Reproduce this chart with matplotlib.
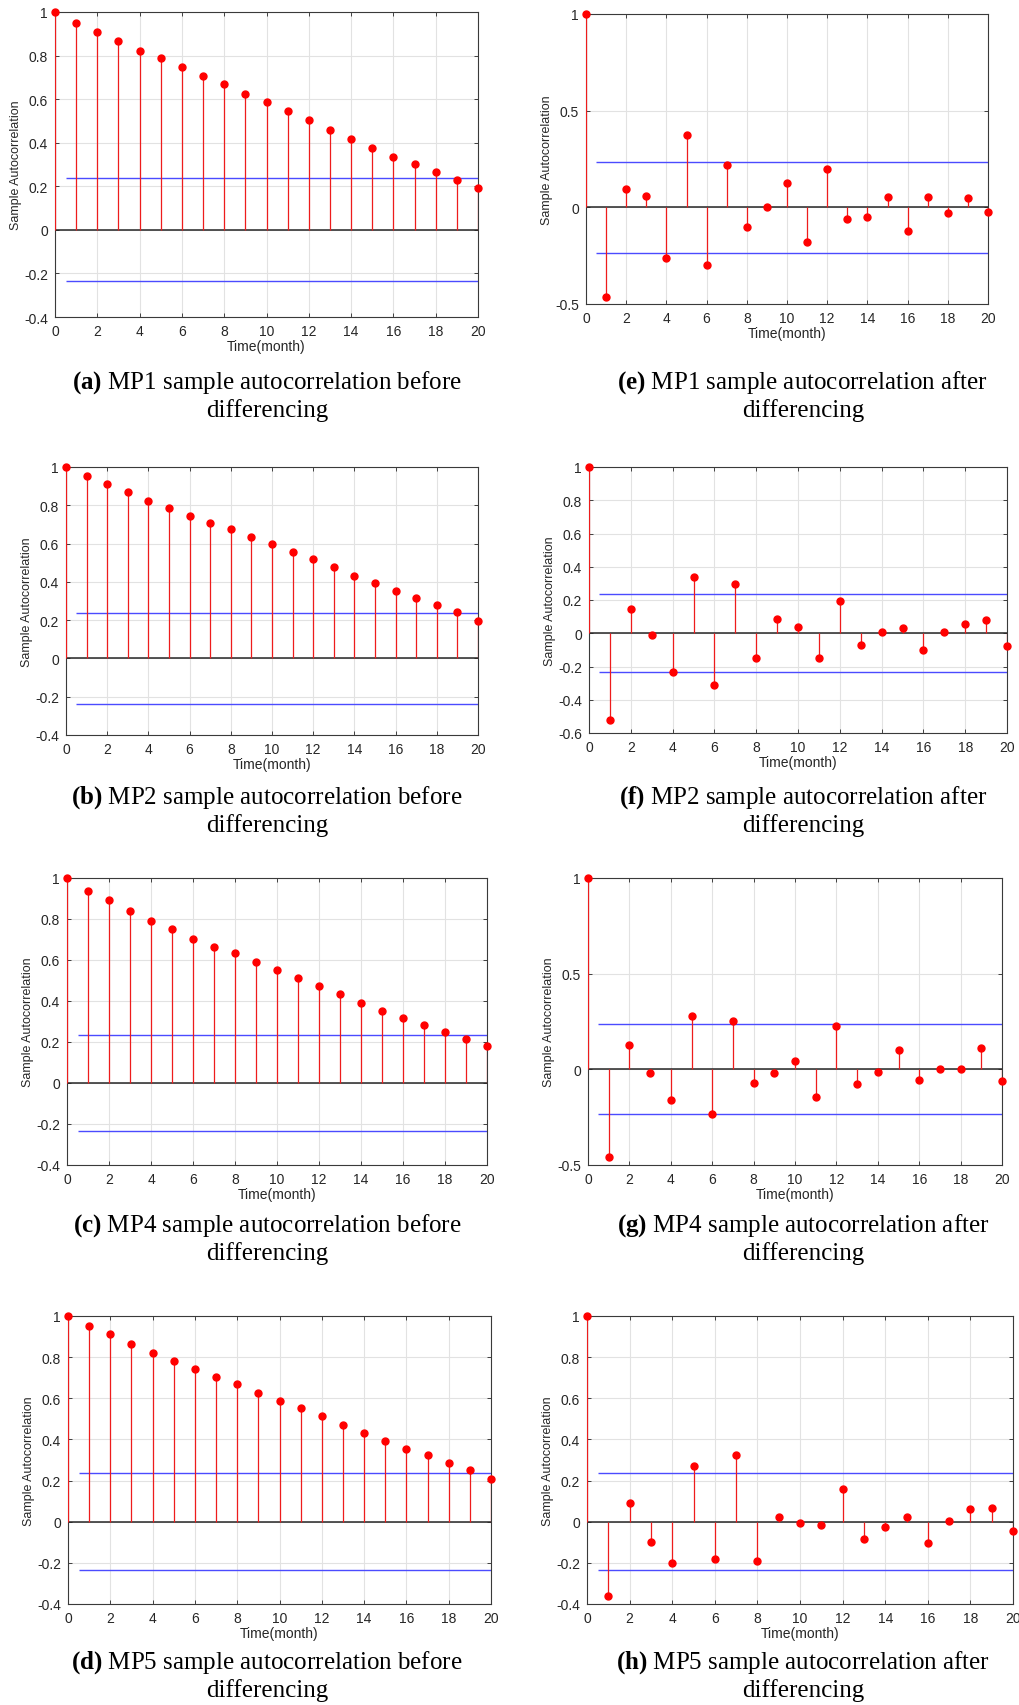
import numpy as np
import matplotlib
matplotlib.use("Agg")
import matplotlib.pyplot as plt
from matplotlib.ticker import FormatStrFormatter

plt.rcParams['font.family'] = ['Liberation Sans', 'DejaVu Sans']
plt.rcParams['axes.unicode_minus'] = False
plt.rcParams['mathtext.fontset'] = 'custom'
plt.rcParams['mathtext.rm'] = 'Liberation Serif'
plt.rcParams['mathtext.bf'] = 'Liberation Serif:bold'

# ---- data ----
lags = np.arange(21)
bound = 0.236   # confidence bounds drawn as +/- lines

mp1_before = [1, 0.950, 0.910, 0.865, 0.822, 0.790, 0.747, 0.708, 0.669, 0.625, 0.585,
              0.544, 0.504, 0.460, 0.416, 0.374, 0.336, 0.302, 0.264, 0.230, 0.192]
mp2_before = [1, 0.953, 0.913, 0.867, 0.824, 0.787, 0.744, 0.709, 0.676, 0.636, 0.596,
              0.555, 0.519, 0.475, 0.433, 0.392, 0.350, 0.317, 0.277, 0.242, 0.198]
mp4_before = [1, 0.938, 0.894, 0.839, 0.790, 0.750, 0.704, 0.665, 0.633, 0.589, 0.550,
              0.512, 0.475, 0.433, 0.390, 0.353, 0.315, 0.283, 0.247, 0.215, 0.179]
mp5_before = [1, 0.952, 0.911, 0.863, 0.820, 0.783, 0.741, 0.705, 0.670, 0.628, 0.589,
              0.554, 0.515, 0.472, 0.430, 0.391, 0.353, 0.322, 0.283, 0.250, 0.209]

mp1_after = [1, -0.462, 0.093, 0.057, -0.264, 0.372, -0.298, 0.219, -0.102, 0.0, 0.124,
             -0.178, 0.197, -0.060, -0.050, 0.055, -0.124, 0.052, -0.029, 0.048, -0.026]
mp2_after = [1, -0.522, 0.147, -0.009, -0.231, 0.337, -0.312, 0.295, -0.151, 0.087, 0.039,
             -0.147, 0.195, -0.069, 0.009, 0.029, -0.101, 0.009, 0.057, 0.081, -0.075]
mp4_after = [1, -0.456, 0.127, -0.017, -0.160, 0.279, -0.232, 0.254, -0.073, -0.017, 0.044,
             -0.143, 0.225, -0.075, -0.014, 0.101, -0.056, 0.003, 0.0, 0.110, -0.059]
mp5_after = [1, -0.363, 0.090, -0.100, -0.200, 0.273, -0.182, 0.323, -0.190, 0.021, -0.008,
             -0.016, 0.161, -0.085, -0.024, 0.024, -0.103, 0.005, 0.061, 0.068, -0.044]

captions = [
    ("a", "MP1 sample autocorrelation before"), ("e", "MP1 sample autocorrelation after"),
    ("b", "MP2 sample autocorrelation before"), ("f", "MP2 sample autocorrelation after"),
    ("c", "MP4 sample autocorrelation before"), ("g", "MP4 sample autocorrelation after"),
    ("d", "MP5 sample autocorrelation before"), ("h", "MP5 sample autocorrelation after"),
]
series = [mp1_before, mp1_after, mp2_before, mp2_after,
          mp4_before, mp4_after, mp5_before, mp5_after]
yticks = [
    np.arange(-0.4, 1.01, 0.2), [-0.5, 0, 0.5, 1],
    np.arange(-0.4, 1.01, 0.2), np.arange(-0.6, 1.01, 0.2),
    np.arange(-0.4, 1.01, 0.2), [-0.5, 0, 0.5, 1],
    np.arange(-0.4, 1.01, 0.2), np.arange(-0.4, 1.01, 0.2),
]

# axes boxes in pixels (left, right, top, bottom)
boxes = [(55, 478, 13, 318), (586, 988, 15, 305),
         (66, 478, 468, 736), (589, 1007, 468, 734),
         (67, 487, 879, 1166), (588, 1002, 879, 1166),
         (68, 491, 1317, 1605), (587, 1013, 1317, 1605)]
cap_y = [383, 383, 798, 798, 1226, 1226, 1663, 1663]
cap_x = [267, 803]

W, H = 1019, 1706
fig = plt.figure(figsize=(W / 100, H / 100), dpi=100)

for i, (vals, yt, box) in enumerate(zip(series, yticks, boxes)):
    l, r, t, b = box
    ax = fig.add_axes([l / W, 1 - b / H, (r - l) / W, (b - t) / H])
    yt = np.round(yt, 2)
    ax.set_xlim(0, 20)
    ax.set_ylim(yt[0], yt[-1])
    ax.set_xticks(np.arange(0, 21, 2))
    ax.set_yticks(yt)
    ax.yaxis.set_major_formatter(FormatStrFormatter('%g'))
    ax.grid(True, color='#e2e2e2', lw=0.8)
    ax.set_axisbelow(True)

    ax.vlines(lags, 0, vals, color='#ee1c1c', lw=0.9, zorder=3)
    ax.plot(lags, vals, 'o', color='#ff0000', ms=5, zorder=4, clip_on=False)
    ax.axhline(0, color='#262626', lw=1.1, zorder=2)
    ax.hlines([bound, -bound], 0.5, 20, color='#4b4bff', lw=1.0, zorder=2)

    for s in ax.spines.values():
        s.set_color('#3a3a3a')
        s.set_linewidth(0.8)
    ax.tick_params(direction='in', top=True, right=True, length=3, width=0.6,
                   labelsize=10, colors='#262626', pad=5)
    ax.set_xlabel('Time(month)', fontsize=10, labelpad=1, color='#262626')
    ax.set_ylabel('Sample Autocorrelation', fontsize=9, color='#262626')
    ax.yaxis.set_label_coords(-33 / (r - l), 0.5)

    tag, text = captions[i]
    cx = cap_x[i % 2] / W
    fig.text(cx, 1 - cap_y[i] / H, r'$\mathbf{(%s)}$ %s' % (tag, text),
             family='Liberation Serif', fontsize=18, ha='center', va='center')
    fig.text(cx, 1 - (cap_y[i] + 28) / H, 'differencing',
             family='Liberation Serif', fontsize=18, ha='center', va='center')

fig.savefig('out.png', dpi=100, facecolor='white')
